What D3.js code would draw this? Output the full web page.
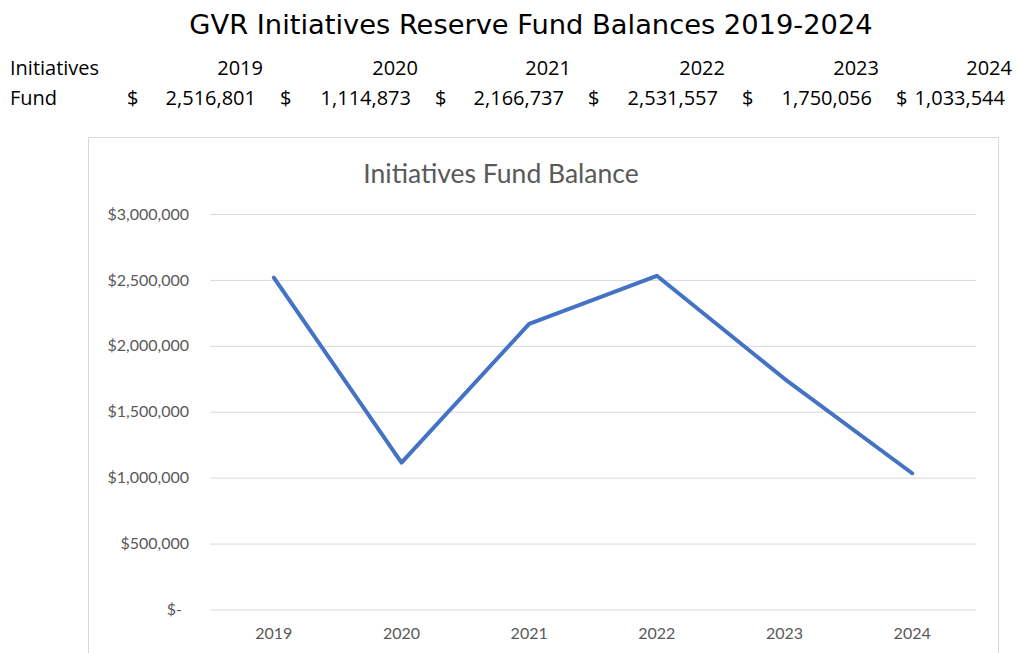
<!DOCTYPE html>
<html>
<head>
<meta charset="utf-8">
<script src="https://cdn.jsdelivr.net/npm/d3@7"></script>
<style>
  html, body { margin: 0; padding: 0; background: #ffffff; }
  svg { display: block; }
</style>
</head>
<body>
<svg id="chart" width="1017" height="653"></svg>
<script>
// ---- data ----
const years = ["2019", "2020", "2021", "2022", "2023", "2024"];
const fundValues = [2516801, 1114873, 2166737, 2531557, 1750056, 1033544];
const yTicks = [0, 500000, 1000000, 1500000, 2000000, 2500000, 3000000];
const pageTitle = "GVR Initiatives Reserve Fund Balances 2019-2024";
const chartTitle = "Initiatives Fund Balance";
const tableRowLabels = ["Initiatives", "Fund"];

// ---- layout (not data) ----
const tableColRight = [263, 418, 571, 725, 879, 1012];

const svg = d3.select("#chart");
const W = 1017, H = 653;
svg.append("rect").attr("width", W).attr("height", H).attr("fill", "#fff");

// ---- page title ----
svg.append("text")
  .attr("x", 531).attr("y", 34)
  .attr("text-anchor", "middle")
  .attr("font-family", "'DejaVu Sans', sans-serif")
  .attr("font-size", 27.3)
  .attr("fill", "#000")
  .text(pageTitle);

// ---- table ----
const tableFont = "'Open Sans', 'Noto Sans', sans-serif";
const valueFmt = d3.format(",");
const tbl = svg.append("g").attr("font-family", tableFont).attr("font-size", 20).attr("fill", "#000");
tbl.append("text").attr("x", 10).attr("y", 75).text(tableRowLabels[0]);
tbl.append("text").attr("x", 10).attr("y", 105).text(tableRowLabels[1]);
tbl.selectAll("text.yr").data(years).join("text")
  .attr("class", "yr")
  .attr("x", (d, i) => tableColRight[i])
  .attr("y", 75)
  .attr("text-anchor", "end")
  .text(d => d);
tbl.selectAll("text.val").data(fundValues).join("text")
  .attr("class", "val")
  .attr("x", (d, i) => tableColRight[i] - 7)
  .attr("y", 105)
  .attr("text-anchor", "end")
  .text(d => valueFmt(d));
tbl.selectAll("text.cur").data(fundValues).join("text")
  .attr("class", "cur")
  .attr("x", (d, i) => i === 0 ? 127 : tableColRight[i - 1] + 17)
  .attr("y", 105)
  .text("$");

// ---- chart area ----
svg.append("rect")
  .attr("x", 88.5).attr("y", 137.5)
  .attr("width", 910).attr("height", 530)
  .attr("fill", "#fff").attr("stroke", "#d9d9d9").attr("stroke-width", 1);

const chartFont = "Lato, 'Open Sans', sans-serif";
svg.append("text")
  .attr("x", 501).attr("y", 183)
  .attr("text-anchor", "middle")
  .attr("font-family", chartFont)
  .attr("font-size", 26.5)
  .attr("fill", "#595959")
  .text(chartTitle);

const x = d3.scaleBand().domain(years).range([210, 976]);
const y = d3.scaleLinear().domain([0, 3000000]).range([609.5, 214]);

const yFmt = v => v === 0 ? "$-" : "$" + d3.format(",")(v);
const yAxis = svg.append("g")
  .attr("transform", "translate(210,0)")
  .call(d3.axisLeft(y).tickValues(yTicks).tickFormat(yFmt).tickSize(-766).tickPadding(21));
yAxis.select(".domain").remove();
yAxis.selectAll(".tick line").attr("stroke", "#d9d9d9").attr("stroke-width", 1);
yAxis.selectAll(".tick text")
  .attr("font-family", chartFont).attr("font-size", 16).attr("fill", "#595959")
  .attr("dx", d => d === 0 ? -7 : 0);

const xAxis = svg.append("g")
  .attr("transform", "translate(0,609.5)")
  .call(d3.axisBottom(x).tickSize(0).tickPadding(18));
xAxis.select(".domain").remove();
xAxis.selectAll(".tick text")
  .attr("font-family", chartFont).attr("font-size", 16).attr("fill", "#595959");

const line = d3.line()
  .x((d, i) => x(years[i]) + x.bandwidth() / 2)
  .y(d => y(d));
svg.append("path")
  .datum(fundValues)
  .attr("d", line)
  .attr("fill", "none")
  .attr("stroke", "#4472c4")
  .attr("stroke-width", 4)
  .attr("stroke-linejoin", "round")
  .attr("stroke-linecap", "round");
</script>
</body>
</html>
